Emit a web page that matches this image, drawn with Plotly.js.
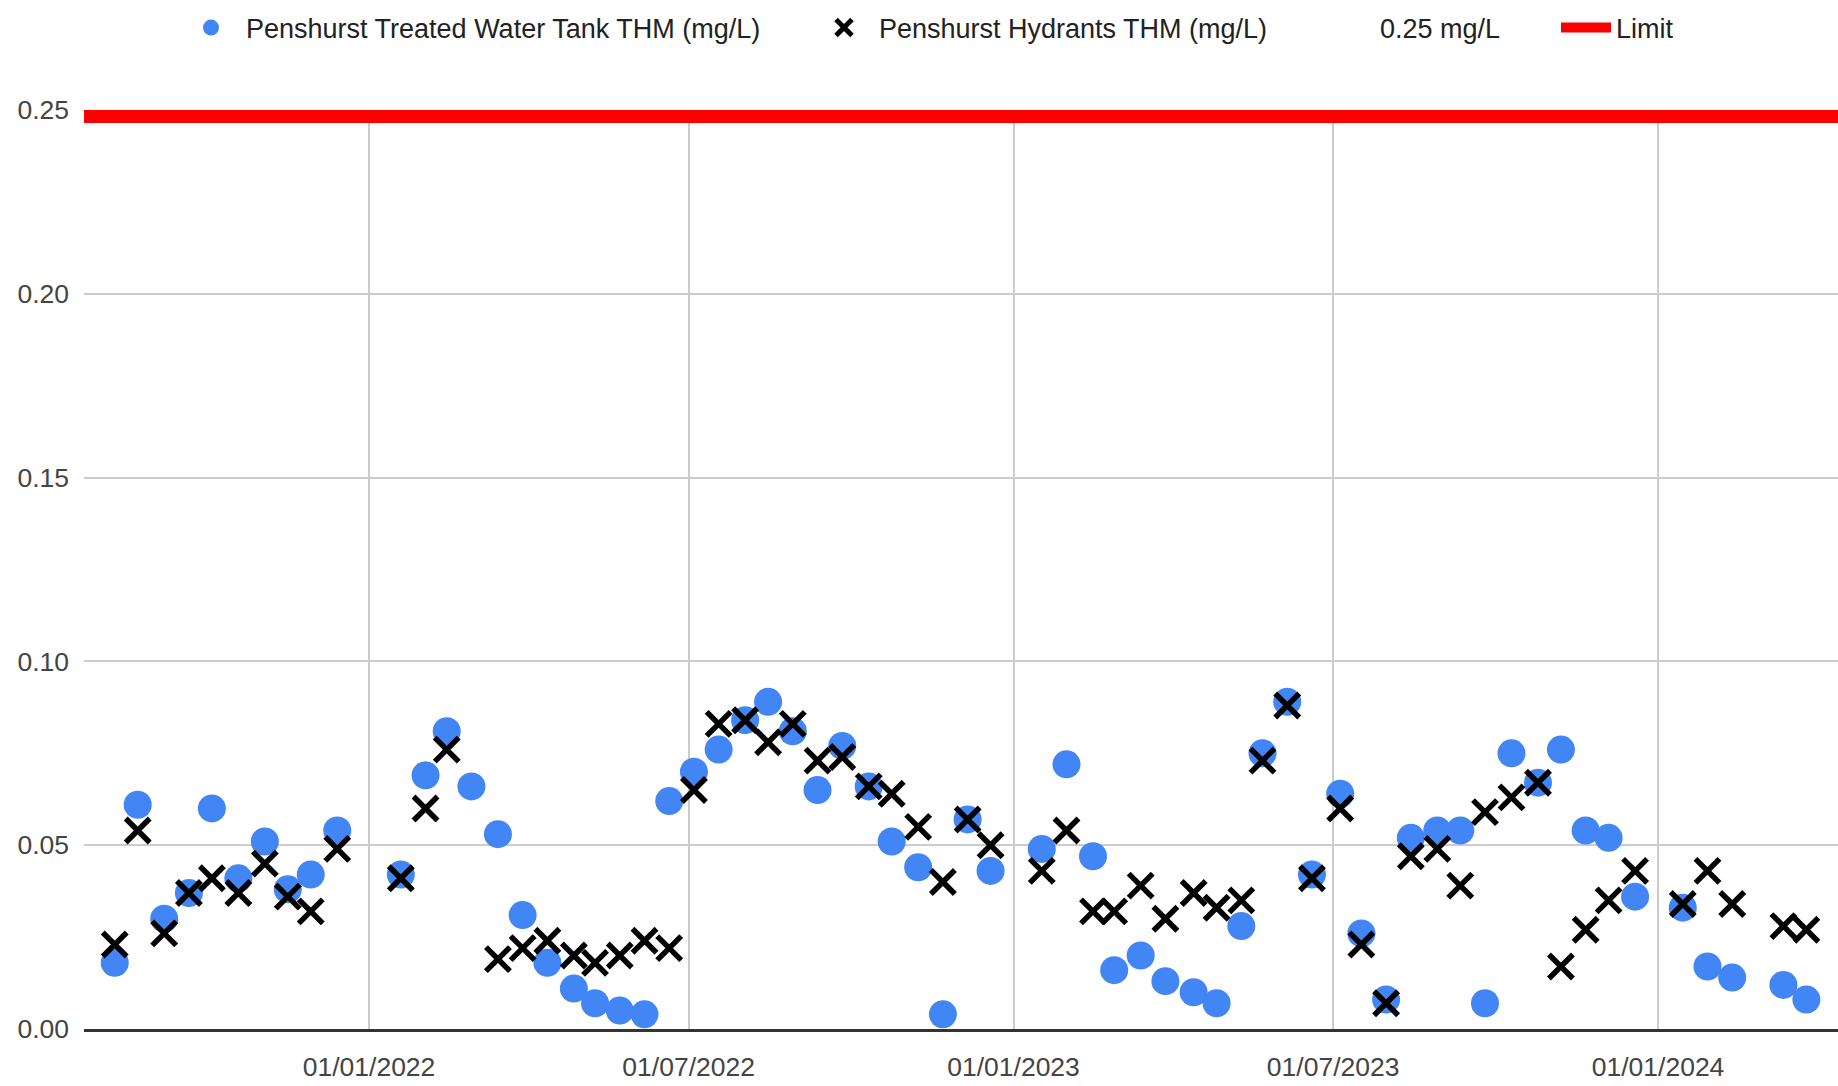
<!DOCTYPE html>
<html>
<head>
<meta charset="utf-8">
<script src="https://cdn.plot.ly/plotly-3.0.1.min.js"></script>
<style>html,body{margin:0;padding:0;background:#fff;}#chart{width:1838px;height:1086px;}</style>
</head>
<body>
<div id="chart"></div>
<script>
// Sampling dates and THM results (mg/L)
const tankDates = ['2021-08-10','2021-08-23','2021-09-07','2021-09-21','2021-10-04','2021-10-19','2021-11-03','2021-11-16','2021-11-29','2021-12-14',
  '2022-01-19','2022-02-02','2022-02-14','2022-02-28','2022-03-15','2022-03-29','2022-04-12','2022-04-27','2022-05-09','2022-05-23','2022-06-06','2022-06-20',
  '2022-07-04','2022-07-18','2022-08-02','2022-08-15','2022-08-29','2022-09-12','2022-09-26','2022-10-11','2022-10-24','2022-11-08','2022-11-22','2022-12-06','2022-12-19',
  '2023-01-17','2023-01-31','2023-02-15','2023-02-27','2023-03-14','2023-03-28','2023-04-13','2023-04-26','2023-05-10','2023-05-22','2023-06-05','2023-06-19',
  '2023-07-05','2023-07-17','2023-07-31','2023-08-14','2023-08-29','2023-09-11','2023-09-25','2023-10-10','2023-10-25','2023-11-07','2023-11-21','2023-12-04','2023-12-19',
  '2024-01-15','2024-01-29','2024-02-12','2024-03-12','2024-03-25'];
const tankTHM = [0.018,0.061,0.030,0.037,0.060,0.041,0.051,0.038,0.042,0.054,
  0.042,0.069,0.081,0.066,0.053,0.031,0.018,0.011,0.007,0.005,0.004,0.062,
  0.070,0.076,0.084,0.089,0.081,0.065,0.077,0.066,0.051,0.044,0.004,0.057,0.043,
  0.049,0.072,0.047,0.016,0.020,0.013,0.010,0.007,0.028,0.075,0.089,0.042,
  0.064,0.026,0.008,0.052,0.054,0.054,0.007,0.075,0.067,0.076,0.054,0.052,0.036,
  0.033,0.017,0.014,0.012,0.008];

const hydrantDates = ['2021-08-10','2021-08-23','2021-09-07','2021-09-21','2021-10-04','2021-10-19','2021-11-03','2021-11-16','2021-11-29','2021-12-14',
  '2022-01-19','2022-02-02','2022-02-14','2022-03-15','2022-03-29','2022-04-12','2022-04-27','2022-05-09','2022-05-23','2022-06-06','2022-06-20',
  '2022-07-04','2022-07-18','2022-08-02','2022-08-15','2022-08-29','2022-09-12','2022-09-26','2022-10-11','2022-10-24','2022-11-08','2022-11-22','2022-12-06','2022-12-19',
  '2023-01-17','2023-01-31','2023-02-15','2023-02-27','2023-03-14','2023-03-28','2023-04-13','2023-04-26','2023-05-10','2023-05-22','2023-06-05','2023-06-19',
  '2023-07-05','2023-07-17','2023-07-31','2023-08-14','2023-08-29','2023-09-11','2023-09-25','2023-10-10','2023-10-25','2023-11-07','2023-11-21','2023-12-04','2023-12-19',
  '2024-01-15','2024-01-29','2024-02-12','2024-03-12','2024-03-25'];
const hydrantTHM = [0.023,0.054,0.026,0.037,0.041,0.037,0.045,0.036,0.032,0.049,
  0.041,0.060,0.076,0.019,0.022,0.024,0.020,0.018,0.020,0.024,0.022,
  0.065,0.083,0.084,0.078,0.083,0.073,0.074,0.066,0.064,0.055,0.040,0.057,0.050,
  0.043,0.054,0.032,0.032,0.039,0.030,0.037,0.033,0.035,0.073,0.088,0.041,
  0.060,0.023,0.007,0.047,0.049,0.039,0.059,0.063,0.067,0.017,0.027,0.035,0.043,
  0.034,0.043,0.034,0.028,0.027];

const limitDates = ['2021-07-23 14:00','2024-04-11 22:00'];
const limitValues = [0.25, 0.25];

const xTickVals = ['2022-01-01','2022-07-01','2023-01-01','2023-07-01','2024-01-01'];
const xTickText = ['01/01/2022','01/07/2022','01/01/2023','01/07/2023','01/01/2024'];
const yTickVals = [0, 0.05, 0.10, 0.15, 0.20, 0.25];
const yTickText = ['0.00','0.05','0.10','0.15','0.20','0.25'];

const seriesNames = ['Penshurst Treated Water Tank THM (mg/L)','Penshurst Hydrants THM (mg/L)','0.25 mg/L','Limit'];

const FONT = '"Liberation Sans", Arial, sans-serif';
const legendY = 1 - 28/1086;
function leg(px, w){
  return {orientation:'h', xref:'container', yref:'container', x:px/1838, y:legendY, xanchor:'left', yanchor:'middle',
    bgcolor:'rgba(0,0,0,0)', borderwidth:0, itemwidth:w, font:{family:FONT, size:27, color:'#222222'}};
}

const traces = [
  {type:'scatter', mode:'markers', name:seriesNames[0], x:tankDates, y:tankTHM,
   marker:{symbol:'circle', size:28, color:'#4285F4', line:{width:0}}, legend:'legend'},
  {type:'scatter', mode:'markers', name:seriesNames[1], x:hydrantDates, y:hydrantTHM,
   marker:{symbol:'x-thin-open', size:24, color:'#000000', line:{width:5.5, color:'#000000'}}, legend:'legend2'},
  {type:'scatter', mode:'lines', name:seriesNames[2], x:limitDates, y:limitValues,
   line:{color:'rgba(0,0,0,0)', width:1}, legend:'legend3', hoverinfo:'skip'},
  {type:'scatter', mode:'lines', name:seriesNames[3], x:limitDates, y:limitValues,
   line:{color:'#FF0000', width:26}, legend:'legend4'}
];

const layout = {
  width:1838, height:1086,
  margin:{l:84, r:0, t:110, b:57, pad:0},
  paper_bgcolor:'#ffffff', plot_bgcolor:'#ffffff',
  font:{family:FONT, size:26.5, color:'#444444'},
  showlegend:true,
  legend:leg(176, 60), legend2:leg(809, 60), legend3:leg(1310, 60), legend4:leg(1556, 50),
  xaxis:{type:'date', range:limitDates, tickmode:'array', tickvals:xTickVals, ticktext:xTickText,
    showgrid:true, gridcolor:'#cccccc', gridwidth:2, zeroline:false,
    showline:true, linecolor:'#333333', linewidth:3, ticks:'', ticklabelstandoff:12,
    tickfont:{family:FONT, size:26.5, color:'#444444'}, fixedrange:true},
  yaxis:{range:[0,0.25], tickmode:'array', tickvals:yTickVals, ticktext:yTickText,
    showgrid:true, gridcolor:'#cccccc', gridwidth:2, zeroline:false, showline:false, ticks:'',
    ticklabelstandoff:14, tickfont:{family:FONT, size:26.5, color:'#444444'}, fixedrange:true}
};

Plotly.newPlot('chart', traces, layout, {displayModeBar:false, staticPlot:true});
</script>
</body>
</html>
